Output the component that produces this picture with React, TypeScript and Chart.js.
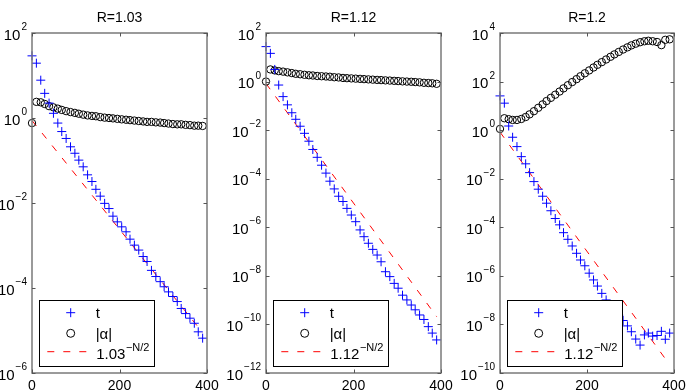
import React, { useEffect, useRef } from "react";
import { Chart, registerables } from "chart.js";

Chart.register(...registerables);

// Sample index N (x axis)
const N = [0, 10, 20, 29, 39, 49, 59, 68, 78, 88, 98, 107, 117, 127, 137, 146, 156, 166, 176, 185, 195, 205, 215, 224, 234, 244, 254, 263, 273, 283, 293, 302, 312, 322, 332, 341, 351, 361, 371, 380, 390];

// Panel 1: R = 1.03
const t103 = [29, 19.5, 7.76, 3.8, 2.24, 1.29, 0.76, 0.48, 0.33, 0.21, 0.148, 0.102, 7.1e-2, 4.6e-2, 3.2e-2, 2.1e-2, 1.45e-2, 9.8e-3, 7.4e-3, 4.9e-3, 3.6e-3, 2.75e-3, 2.1e-3, 1.41e-3, 1.02e-3, 7.8e-4, 5.5e-4, 4.2e-4, 2.6e-4, 1.86e-4, 1.41e-4, 1.07e-4, 8.1e-5, 6.3e-5, 4.8e-5, 3.3e-5, 2.5e-5, 1.95e-5, 1.48e-5, 9.3e-6, 6.6e-6];
const alpha103 = [0.76, 2.4, 2.34, 2.14, 1.9, 1.78, 1.66, 1.55, 1.45, 1.38, 1.32, 1.26, 1.2, 1.15, 1.12, 1.1, 1.05, 1.02, 1.0, 0.98, 0.955, 0.93, 0.91, 0.89, 0.87, 0.85, 0.83, 0.81, 0.81, 0.79, 0.78, 0.76, 0.74, 0.72, 0.71, 0.71, 0.69, 0.68, 0.66, 0.66, 0.65];

// Panel 2: R = 1.12
const t112 = [27.5, 14.5, 3.16, 0.72, 0.24, 0.11, 5.2e-2, 2.8e-2, 1.45e-2, 7.4e-3, 3.5e-3, 1.6e-3, 7.6e-4, 3.6e-4, 1.7e-4, 7.9e-5, 3.8e-5, 1.9e-5, 1.15e-5, 6.0e-6, 3.2e-6, 1.7e-6, 7.8e-7, 4.1e-7, 2.2e-7, 1.23e-7, 7.2e-8, 3.8e-8, 1.48e-8, 9.3e-9, 4.9e-9, 3.1e-9, 1.6e-9, 1.02e-9, 6.3e-10, 4.0e-10, 2.45e-10, 1.6e-10, 8.1e-11, 4.4e-11, 2.3e-11];
const alpha112 = [1.0, 3.16, 2.88, 2.69, 2.57, 2.4, 2.24, 2.09, 2.0, 1.9, 1.82, 1.78, 1.7, 1.66, 1.62, 1.58, 1.51, 1.48, 1.41, 1.38, 1.35, 1.32, 1.29, 1.26, 1.23, 1.2, 1.17, 1.15, 1.12, 1.1, 1.07, 1.05, 1.02, 1.0, 0.98, 0.955, 0.93, 0.89, 0.87, 0.85, 0.81];

// Panel 3: R = 1.2
const t120 = [25.7, 12.9, 1.48, 0.51, 0.21, 8.1e-2, 4.1e-2, 1.78e-2, 7.6e-3, 3.7e-3, 1.9e-3, 9.8e-4, 4.8e-4, 2.3e-4, 1.26e-4, 6.0e-5, 3.2e-5, 1.7e-5, 8.5e-6, 4.5e-6, 2.6e-6, 1.29e-6, 6.8e-7, 3.8e-7, 1.9e-7, 1.02e-7, 5.6e-8, 3.5e-8, 2.4e-8, 1.45e-8, 8.7e-9, 5.0e-9, 2.5e-9, 1.41e-9, 3.7e-9, 4.4e-9, 3.3e-9, 3.5e-9, 5.2e-9, 2.45e-9, 4.4e-9];
const alpha120 = [1.12, 3.09, 2.82, 2.63, 2.63, 2.88, 3.47, 4.47, 6.03, 8.32, 11.5, 15.8, 21.4, 28.8, 38.9, 52.5, 70.8, 95.5, 126, 166, 219, 288, 380, 490, 631, 813, 1047, 1318, 1660, 2089, 2570, 3090, 3631, 4169, 4571, 4786, 4571, 4266, 3162, 5248, 5495];

// Reference lines R^(-N/2) (end points)
const refN = [0, 390];
const ref103 = [0.87, 8.9e-6];
const ref112 = [0.83, 2.1e-10];
const ref120 = [0.83, 2.2e-10];

const titles = ["R=1.03", "R=1.12", "R=1.2"];
const legendBases = ["1.03", "1.12", "1.12"];
const legendLabels = ["t", "|\u03b1|"];
const legendExp = "\u2212N/2";

const xTicks = [0, 200, 400];
const yTicks1 = [1e-6, 1e-4, 1e-2, 1, 1e2];
const yTickExp1 = ["\u22126", "\u22124", "\u22122", "0", "2"];
const yTicks2 = [1e-12, 1e-10, 1e-8, 1e-6, 1e-4, 1e-2, 1, 1e2];
const yTickExp2 = ["\u221212", "\u221210", "\u22128", "\u22126", "\u22124", "\u22122", "0", "2"];
const yTicks3 = [1e-10, 1e-8, 1e-6, 1e-4, 1e-2, 1, 1e2, 1e4];
const yTickExp3 = ["\u221210", "\u22128", "\u22126", "\u22124", "\u22122", "0", "2", "4"];

const FONT = '"Liberation Sans", Arial, Helvetica, sans-serif';

type Panel = {
  left: number;
  width: number;
  padLeft: number;
  padRight: number;
  t: number[];
  alpha: number[];
  ref: number[];
  title: string;
  legendBase: string;
  yTicks: number[];
  yExp: string[];
};

const panels: Panel[] = [
  { left: 0, width: 230, padLeft: 32, padRight: 23, t: t103, alpha: alpha103, ref: ref103, title: titles[0], legendBase: legendBases[0], yTicks: yTicks1, yExp: yTickExp1 },
  { left: 212, width: 248, padLeft: 54, padRight: 19, t: t112, alpha: alpha112, ref: ref112, title: titles[1], legendBase: legendBases[1], yTicks: yTicks2, yExp: yTickExp2 },
  { left: 445, width: 247, padLeft: 55, padRight: 18, t: t120, alpha: alpha120, ref: ref120, title: titles[2], legendBase: legendBases[2], yTicks: yTicks3, yExp: yTickExp3 },
];

const H = 392;

function PanelChart({ p }: { p: Panel }) {
  const ref = useRef<HTMLCanvasElement | null>(null);
  useEffect(() => {
    const canvas = ref.current;
    if (!canvas) return;
    const plugin = {
      id: "matlabAxes",
      afterDraw(chart: any) {
        const ctx = chart.ctx as CanvasRenderingContext2D;
        const { left, right, top, bottom } = chart.chartArea;
        const xs = chart.scales.x;
        const ys = chart.scales.y;
        ctx.save();
        // axes box
        ctx.strokeStyle = "#7a7a7a";
        ctx.lineWidth = 1.5;
        ctx.strokeRect(left, top, right - left, bottom - top);
        // ticks
        ctx.lineWidth = 1;
        ctx.strokeStyle = "#555";
        const tl = 3.5;
        ctx.beginPath();
        xTicks.forEach((v) => {
          const px = Math.round(xs.getPixelForValue(v)) + 0.5;
          ctx.moveTo(px, top);
          ctx.lineTo(px, top + tl);
          ctx.moveTo(px, bottom);
          ctx.lineTo(px, bottom - tl);
        });
        p.yTicks.forEach((v) => {
          const py = Math.round(ys.getPixelForValue(v)) + 0.5;
          ctx.moveTo(left, py);
          ctx.lineTo(left + tl, py);
          ctx.moveTo(right, py);
          ctx.lineTo(right - tl, py);
        });
        ctx.stroke();
        // text
        ctx.fillStyle = "#000";
        // title
        ctx.font = `14px ${FONT}`;
        ctx.textAlign = "center";
        ctx.textBaseline = "alphabetic";
        ctx.fillText(p.title, (left + right) / 2, 22);
        // x tick labels
        xTicks.forEach((v) => {
          ctx.fillText(String(v), xs.getPixelForValue(v), 390);
        });
        // y tick labels with superscript
        ctx.textAlign = "left";
        p.yTicks.forEach((v, i) => {
          const py = ys.getPixelForValue(v);
          const exp = p.yExp[i];
          ctx.font = `10px ${FONT}`;
          const ew = ctx.measureText(exp).width;
          ctx.font = `15px ${FONT}`;
          const bw = ctx.measureText("10").width;
          const ex = left - 5 - ew;
          const bx = ex - 1 - bw;
          ctx.fillText("10", bx, py + 6.5);
          ctx.font = `10px ${FONT}`;
          ctx.fillText(exp, ex, py - 3);
        });
        // legend
        const lx = Math.round(left + 7) + 0.5;
        const ly = 300.5;
        const lw = 115;
        const lh = 66;
        ctx.fillStyle = "#fff";
        ctx.fillRect(lx, ly, lw, lh);
        ctx.strokeStyle = "#000";
        ctx.lineWidth = 1;
        ctx.strokeRect(lx, ly, lw, lh);
        const mx = left + 38.7;
        const tx = left + 63.7;
        // + marker
        ctx.strokeStyle = "#0000ff";
        ctx.beginPath();
        ctx.moveTo(mx - 4.5, 312.7);
        ctx.lineTo(mx + 4.5, 312.7);
        ctx.moveTo(mx, 312.7 - 4.5);
        ctx.lineTo(mx, 312.7 + 4.5);
        ctx.stroke();
        // circle marker
        ctx.strokeStyle = "#000";
        ctx.beginPath();
        ctx.arc(mx, 333.3, 4, 0, Math.PI * 2);
        ctx.stroke();
        // dashed line
        ctx.strokeStyle = "#ff0000";
        ctx.setLineDash([7, 9]);
        ctx.beginPath();
        ctx.moveTo(left + 15.3, 351.7);
        ctx.lineTo(left + 57.5, 351.7);
        ctx.stroke();
        ctx.setLineDash([]);
        ctx.fillStyle = "#000";
        ctx.font = `15px ${FONT}`;
        ctx.textBaseline = "alphabetic";
        ctx.fillText(legendLabels[0], tx, 317.5);
        ctx.fillText(legendLabels[1], tx, 338.5);
        ctx.fillText(p.legendBase, tx + 0.5, 358.5);
        const bw2 = ctx.measureText(p.legendBase).width;
        ctx.font = `11px ${FONT}`;
        ctx.fillText(legendExp, tx + 0.5 + bw2 + 0.5, 350.5);
        ctx.restore();
      },
    };
    const chart = new Chart(canvas, {
      type: "scatter",
      data: {
        datasets: [
          {
            label: "t",
            data: N.map((n, i) => ({ x: n, y: p.t[i] })),
            pointStyle: "cross",
            pointRadius: 4.5,
            borderColor: "#0000ff",
            backgroundColor: "#0000ff",
            borderWidth: 1,
            showLine: false,
            clip: false,
          } as any,
          {
            label: "|\u03b1|",
            data: N.map((n, i) => ({ x: n, y: p.alpha[i] })),
            pointStyle: "circle",
            pointRadius: 3.7,
            borderColor: "#000",
            backgroundColor: "rgba(0,0,0,0)",
            borderWidth: 1,
            showLine: false,
            clip: false,
          } as any,
          {
            label: "ref",
            data: refN.map((n, i) => ({ x: n, y: p.ref[i] })),
            showLine: true,
            pointRadius: 0,
            borderColor: "#ff0000",
            borderWidth: 1,
            borderDash: [7, 9],
            fill: false,
          } as any,
        ],
      },
      options: {
        responsive: false,
        animation: false,
        events: [],
        devicePixelRatio: 1,
        layout: { padding: { left: p.padLeft, right: p.padRight, top: 33, bottom: H - 373 } },
        plugins: { legend: { display: false }, title: { display: false }, tooltip: { enabled: false } },
        scales: {
          x: { type: "linear", min: 0, max: 400, display: false },
          y: { type: "logarithmic", min: p.yTicks[0], max: p.yTicks[p.yTicks.length - 1], display: false },
        },
      },
      plugins: [plugin],
    });
    return () => chart.destroy();
  }, [p]);
  return (
    <canvas
      ref={ref}
      width={p.width}
      height={H}
      style={{ position: "absolute", left: p.left, top: 0, width: p.width, height: H }}
    />
  );
}

export default function App() {
  return (
    <div style={{ position: "fixed", left: 0, top: 0, width: 692, height: H, background: "#fff", overflow: "hidden" }}>
      {panels.map((p, i) => (
        <PanelChart key={i} p={p} />
      ))}
    </div>
  );
}
